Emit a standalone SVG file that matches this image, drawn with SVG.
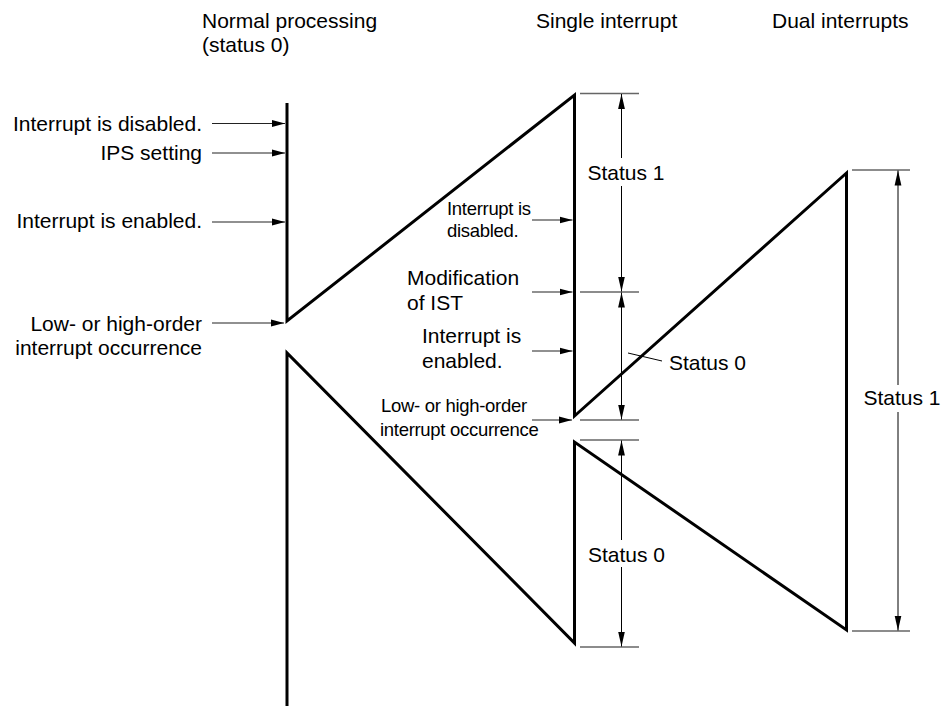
<svg xmlns="http://www.w3.org/2000/svg" width="942" height="706" viewBox="0 0 942 706">
<defs>
<marker id="ah" markerUnits="userSpaceOnUse" markerWidth="14" markerHeight="8" refX="13" refY="4" orient="auto" viewBox="0 0 14 8"><path d="M0,0.6 L13,4 L0,7.4 z" fill="#000"/></marker>
<marker id="dh" markerUnits="userSpaceOnUse" markerWidth="16" markerHeight="8" refX="15" refY="4" orient="auto-start-reverse" viewBox="0 0 16 8"><path d="M0,0.6 L15,4 L0,7.4 z" fill="#000"/></marker>
</defs>
<style>
text { font-family: "Liberation Sans", Arial, Helvetica, sans-serif; fill: #000; }
.lg { font-size: 21px; }
.sm { font-size: 18.5px; letter-spacing: -0.3px; }
.thick { fill: none; stroke: #000; stroke-width: 3; stroke-linejoin: miter; stroke-miterlimit: 6; }
.arr { fill: none; stroke: #222; stroke-width: 1.2; marker-end: url(#ah); }
.tick { stroke: #666; stroke-width: 1.5; }
.dim { stroke: #000; stroke-width: 1; fill: none; }
.dimA { stroke: #000; stroke-width: 1; fill: none; marker-start: url(#dh); }
.dimB { stroke: #000; stroke-width: 1; fill: none; marker-end: url(#dh); }
.dimAB { stroke: #000; stroke-width: 1; fill: none; marker-start: url(#dh); marker-end: url(#dh); }
</style>
<rect width="942" height="706" fill="#fff"/>

<g id="headers">
<text class="lg" x="202" y="28">Normal processing</text>
<text class="lg" x="202" y="52">(status 0)</text>
<text class="lg" x="536" y="28">Single interrupt</text>
<text class="lg" x="772" y="28">Dual interrupts</text>
</g>

<g id="timeline">
<path class="thick" d="M287,103 V321 L574.5,95 V416 L846.5,173 V630 L574.5,442 V643 L287,353 V706"/>
</g>

<g id="left-labels">
<text class="lg" x="202" y="131" text-anchor="end">Interrupt is disabled.</text>
<text class="lg" x="202" y="160" text-anchor="end">IPS setting</text>
<text class="lg" x="202" y="228" text-anchor="end">Interrupt is enabled.</text>
<text class="lg" x="202" y="331" text-anchor="end">Low- or high-order</text>
<text class="lg" x="202" y="355" text-anchor="end">interrupt occurrence</text>
</g>

<g id="middle-labels">
<text class="sm" x="447" y="215">Interrupt is</text>
<text class="sm" x="447" y="237">disabled.</text>
<text class="lg" x="407" y="285">Modification</text>
<text class="lg" x="407" y="310">of IST</text>
<text class="lg" x="422" y="343">Interrupt is</text>
<text class="lg" x="422" y="368">enabled.</text>
<text class="sm" x="381" y="412">Low- or high-order</text>
<text class="sm" x="380" y="436">interrupt occurrence</text>
</g>

<g id="status-labels">
<text class="lg" x="626" y="180" text-anchor="middle">Status 1</text>
<text class="lg" x="669" y="370">Status 0</text>
<text class="lg" x="626.5" y="562" text-anchor="middle">Status 0</text>
<text class="lg" x="902" y="405" text-anchor="middle">Status 1</text>
</g>

<g id="connectors">
<line class="arr" x1="212" y1="123.5" x2="285" y2="123.5"/>
<line class="arr" x1="212" y1="153" x2="285" y2="153"/>
<line class="arr" x1="212" y1="222" x2="285" y2="222"/>
<line class="arr" x1="212" y1="323" x2="284" y2="323"/>
<line class="arr" x1="532" y1="220" x2="572.5" y2="220"/>
<line class="arr" x1="532" y1="292" x2="572.5" y2="292"/>
<line class="arr" x1="532" y1="351" x2="572.5" y2="351"/>
<line class="arr" x1="532" y1="420" x2="572" y2="420"/>

<line class="tick" x1="580" y1="93.5" x2="639" y2="93.5"/>
<line class="tick" x1="580" y1="292" x2="639" y2="292"/>
<line class="tick" x1="580" y1="420" x2="639" y2="420"/>
<line class="tick" x1="580" y1="440" x2="639" y2="440"/>
<line class="tick" x1="580" y1="647" x2="639" y2="647"/>
<line class="tick" x1="852" y1="170" x2="910" y2="170"/>
<line class="tick" x1="852" y1="631" x2="910" y2="631"/>

<line class="dimA" x1="621.5" y1="94" x2="621.5" y2="158"/>
<line class="dimB" x1="621.5" y1="186" x2="621.5" y2="291.5"/>
<line class="dimAB" x1="621.5" y1="292.5" x2="621.5" y2="419.5"/>
<line class="dim" x1="628" y1="353" x2="662" y2="361"/>
<line class="dimA" x1="621.5" y1="440.5" x2="621.5" y2="540"/>
<line class="dimB" x1="621.5" y1="567" x2="621.5" y2="646.5"/>
<line class="dimA" x1="898" y1="170.5" x2="898" y2="385"/>
<line class="dimB" x1="898" y1="412" x2="898" y2="630.5"/>
</g>
</svg>
